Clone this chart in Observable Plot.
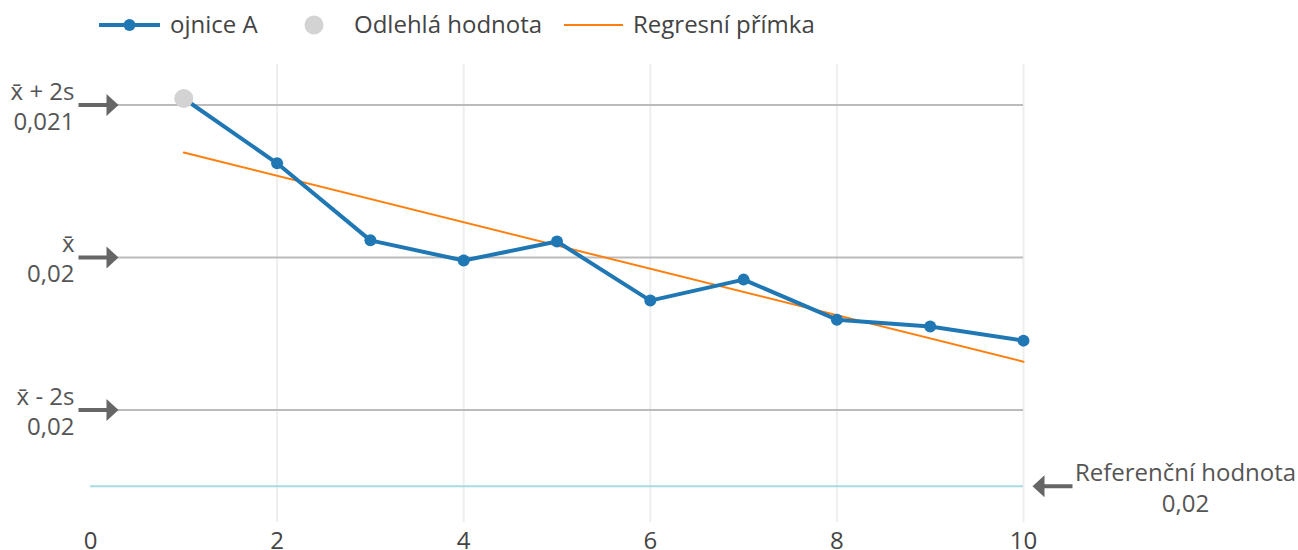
<!DOCTYPE html>
<html>
<head>
<meta charset="utf-8">
<script src="https://cdn.jsdelivr.net/npm/d3@7"></script>
<script src="https://cdn.jsdelivr.net/npm/@observablehq/plot@0.6"></script>
<style>
  body { margin: 0; background: #fff; font-family: "Open Sans", sans-serif; }
  #legend { display: block; }
  #legend text { font-family: "Open Sans", sans-serif; font-size: 24px; fill: #444; }
</style>
</head>
<body>
<svg id="legend" width="1298" height="50"></svg>
<div id="chart"></div>
<script>
// ---- data ----
const samples = [1, 2, 3, 4, 5, 6, 7, 8, 9, 10];
const values = [0.020717, 0.020547, 0.020345, 0.020292, 0.020342, 0.020187, 0.020242, 0.020137, 0.020119, 0.020082];
const outlierSamples = [1];
const limitLabels = ["x\u0304 + 2s", "x\u0304", "x\u0304 - 2s"];
const limitValues = [0.0207, 0.0203, 0.0199];
const limitTexts = ["0,021", "0,02", "0,02"];
const referenceLabels = ["Referenční hodnota"];
const referenceValues = [0.0197];
const referenceTexts = ["0,02"];
const xTicks = [0, 2, 4, 6, 8, 10];
const seriesNames = ["ojnice A", "Odlehlá hodnota", "Regresní přímka"];
const colors = {series: "#1f77b4", outlier: "#d3d3d3", regression: "#ff7f0e", limit: "#bbbbbb", reference: "#a8dbe0", arrow: "#666666", grid: "#eeeeee"};

// ---- tables ----
const points = samples.map((s, i) => ({sample: s, value: values[i], outlier: outlierSamples.includes(s)}));
const limits = limitLabels.map((l, i) => ({label: l, value: limitValues[i], text: limitTexts[i]}));
const refs = referenceLabels.map((l, i) => ({label: l, value: referenceValues[i], text: referenceTexts[i]}));

// ---- legend ----
const lg = d3.select("#legend");
const cy = 25;
lg.append("line").attr("x1", 99).attr("x2", 160).attr("y1", cy).attr("y2", cy).attr("stroke", colors.series).attr("stroke-width", 4);
lg.append("circle").attr("cx", 129.5).attr("cy", cy).attr("r", 6).attr("fill", colors.series);
lg.append("text").attr("x", 170).attr("y", cy).attr("dy", "0.35em").text(seriesNames[0]);
lg.append("circle").attr("cx", 314).attr("cy", cy).attr("r", 9.5).attr("fill", colors.outlier);
lg.append("text").attr("x", 354).attr("y", cy).attr("dy", "0.35em").text(seriesNames[1]);
lg.append("line").attr("x1", 564).attr("x2", 623).attr("y1", cy).attr("y2", cy).attr("stroke", colors.regression).attr("stroke-width", 2);
lg.append("text").attr("x", 633).attr("y", cy).attr("dy", "0.35em").text(seriesNames[2]);

// ---- arrow shape ----
const arrowShape = {
  draw(context, l) {
    const hl = 12, hw = 11, sw = 2;
    context.moveTo(-sw, 0);
    context.lineTo(-sw, -(l - hl));
    context.lineTo(-hw, -(l - hl));
    context.lineTo(0, -l);
    context.lineTo(hw, -(l - hl));
    context.lineTo(sw, -(l - hl));
    context.lineTo(sw, 0);
    context.closePath();
  }
};

const mean = limitValues[1];
const s = (limitValues[0] - limitValues[1]) / 2;

const chart = Plot.plot({
  width: 1298,
  height: 500,
  marginLeft: 90,
  marginRight: 275,
  marginTop: 14,
  marginBottom: 28,
  style: {fontFamily: "Open Sans, sans-serif", fontSize: "24px", color: "#444", background: "#fff", overflow: "visible"},
  x: {domain: [0, 10], ticks: xTicks, tickSize: 0, tickPadding: 9, label: null, tickFormat: d => String(d)},
  y: {domain: [mean - 3.475 * s, mean + 2.531 * s], axis: null},
  marks: [
    Plot.ruleX(xTicks.filter(d => d > 0), {x: d => d, stroke: colors.grid, strokeWidth: 2}),
    Plot.ruleY(limits, {y: "value", stroke: colors.limit, strokeWidth: 2}),
    Plot.ruleY(refs, {y: "value", stroke: colors.reference, strokeWidth: 2}),
    Plot.linearRegressionY(points, {x: "sample", y: "value", stroke: colors.regression, strokeWidth: 2, ci: 0}),
    Plot.line(points, {x: "sample", y: "value", stroke: colors.series, strokeWidth: 4}),
    Plot.dot(points.filter(d => !d.outlier), {x: "sample", y: "value", r: 6, fill: colors.series}),
    Plot.dot(points.filter(d => d.outlier), {x: "sample", y: "value", r: 9.5, fill: colors.outlier}),
    Plot.vector(limits, {y: "value", frameAnchor: "left", dx: -12, anchor: "start", length: 40, rotate: 90, shape: arrowShape, fill: colors.arrow, stroke: "none"}),
    Plot.vector(refs, {y: "value", frameAnchor: "right", dx: 49, anchor: "start", length: 40, rotate: -90, shape: arrowShape, fill: colors.arrow, stroke: "none"}),
    Plot.text(limits, {y: "value", text: d => d.label + "\n" + d.text, frameAnchor: "left", dx: -16, textAnchor: "end", lineHeight: 1.25, fill: "#555", fontSize: 24}),
    Plot.text(refs, {y: "value", text: d => d.label + "\n" + d.text, frameAnchor: "right", dx: 162, textAnchor: "middle", lineHeight: 1.3, fill: "#555", fontSize: 24})
  ]
});
document.getElementById("chart").appendChild(chart);
</script>
</body>
</html>
